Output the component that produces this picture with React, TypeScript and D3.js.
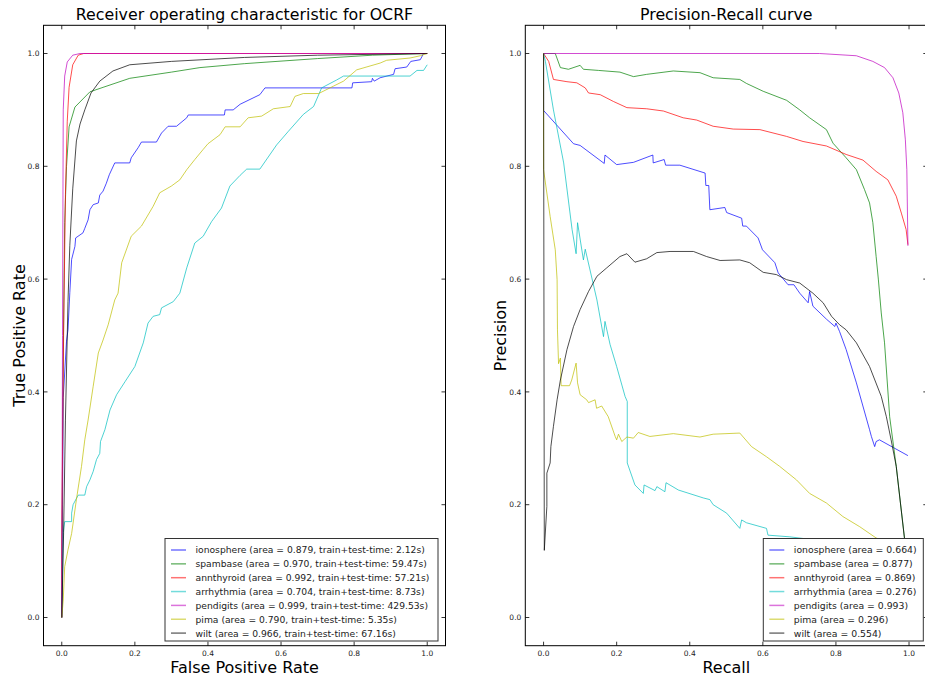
import React from "react";
import * as d3 from "d3";

type P = [number, number];

// ---------- ROC data (FPR, TPR) ----------
const rocIonosphere: P[] = [[0,0],[0.002,0.2],[0.004,0.39],[0.013,0.49],[0.017,0.51],[0.022,0.576],[0.027,0.635],[0.036,0.658],[0.038,0.673],[0.058,0.682],[0.063,0.69],[0.072,0.705],[0.077,0.723],[0.086,0.732],[0.1,0.735],[0.104,0.749],[0.113,0.756],[0.122,0.77],[0.13,0.785],[0.145,0.806],[0.186,0.806],[0.19,0.815],[0.209,0.833],[0.218,0.843],[0.259,0.843],[0.273,0.859],[0.291,0.871],[0.314,0.871],[0.342,0.886],[0.346,0.891],[0.445,0.891],[0.447,0.9],[0.469,0.9],[0.488,0.91],[0.542,0.927],[0.556,0.939],[0.794,0.939],[0.796,0.948],[0.848,0.95],[0.85,0.956],[0.855,0.951],[0.871,0.957],[0.908,0.963],[0.912,0.973],[0.944,0.976],[0.955,0.986],[0.981,0.989],[0.99,1.0],[1,1]];
const rocSpambase: P[] = [[0,0],[0.003,0.4],[0.008,0.7],[0.013,0.8],[0.02,0.87],[0.036,0.905],[0.077,0.932],[0.113,0.94],[0.186,0.956],[0.3,0.967],[0.378,0.975],[0.5,0.982],[0.7,0.991],[0.85,0.997],[1,1]];
const rocAnnthyroid: P[] = [[0,0],[0,0.15],[0.005,0.5],[0.01,0.75],[0.015,0.88],[0.02,0.94],[0.03,0.98],[0.045,0.997],[0.06,1],[1,1]];
const rocArrhythmia: P[] = [[0,0],[0.004,0.15],[0.008,0.17],[0.027,0.17],[0.027,0.185],[0.031,0.2],[0.045,0.217],[0.063,0.217],[0.068,0.232],[0.077,0.244],[0.086,0.259],[0.095,0.28],[0.104,0.291],[0.106,0.312],[0.118,0.333],[0.132,0.368],[0.15,0.395],[0.173,0.418],[0.2,0.445],[0.223,0.487],[0.236,0.522],[0.25,0.534],[0.268,0.537],[0.273,0.549],[0.305,0.56],[0.323,0.575],[0.342,0.62],[0.364,0.664],[0.387,0.676],[0.41,0.702],[0.437,0.726],[0.46,0.765],[0.488,0.784],[0.506,0.795],[0.542,0.795],[0.588,0.838],[0.62,0.862],[0.661,0.892],[0.689,0.906],[0.711,0.939],[0.752,0.953],[0.771,0.96],[0.953,0.96],[0.972,0.97],[0.99,0.97],[1.0,0.98]];
const rocPendigits: P[] = [[0,0],[0.002,0.5],[0.004,0.9],[0.008,0.96],[0.015,0.985],[0.03,0.997],[0.05,1],[1,1]];
const rocPima: P[] = [[0,0],[0.004,0.031],[0.008,0.09],[0.017,0.12],[0.027,0.149],[0.04,0.209],[0.054,0.268],[0.063,0.315],[0.072,0.35],[0.086,0.41],[0.1,0.469],[0.113,0.492],[0.127,0.519],[0.145,0.563],[0.154,0.575],[0.164,0.629],[0.19,0.676],[0.218,0.694],[0.25,0.729],[0.268,0.753],[0.3,0.765],[0.323,0.776],[0.342,0.794],[0.364,0.812],[0.387,0.83],[0.4,0.84],[0.433,0.856],[0.447,0.87],[0.488,0.87],[0.51,0.886],[0.547,0.889],[0.579,0.902],[0.625,0.906],[0.638,0.924],[0.661,0.929],[0.703,0.929],[0.743,0.942],[0.771,0.951],[0.807,0.971],[0.871,0.983],[0.889,0.988],[0.953,0.992],[0.981,0.996],[1,1]];
const rocWilt: P[] = [[0,0],[0.005,0.15],[0.01,0.35],[0.017,0.56],[0.022,0.66],[0.03,0.76],[0.04,0.845],[0.05,0.875],[0.063,0.9],[0.08,0.93],[0.104,0.951],[0.14,0.969],[0.186,0.98],[0.3,0.986],[0.5,0.993],[0.7,0.997],[1,1]];

// ---------- PR data (Recall, Precision) ----------
const prIonosphere: P[] = [[0,1],[0,0.899],[0.082,0.84],[0.1,0.837],[0.166,0.805],[0.168,0.82],[0.2,0.803],[0.246,0.807],[0.299,0.82],[0.3,0.806],[0.33,0.812],[0.334,0.802],[0.373,0.802],[0.442,0.788],[0.444,0.766],[0.452,0.766],[0.455,0.723],[0.496,0.727],[0.501,0.718],[0.542,0.708],[0.545,0.694],[0.555,0.694],[0.587,0.673],[0.599,0.652],[0.633,0.629],[0.642,0.611],[0.669,0.59],[0.685,0.59],[0.701,0.575],[0.724,0.558],[0.728,0.578],[0.737,0.552],[0.774,0.529],[0.797,0.516],[0.8,0.522],[0.81,0.507],[0.828,0.475],[0.856,0.416],[0.892,0.333],[0.897,0.321],[0.906,0.303],[0.91,0.312],[0.919,0.315],[0.997,0.287]];
const prSpambase: P[] = [[0,1],[0.032,1.0],[0.046,0.975],[0.068,0.972],[0.1,0.979],[0.109,0.972],[0.15,0.97],[0.209,0.967],[0.246,0.959],[0.282,0.963],[0.355,0.969],[0.428,0.966],[0.464,0.957],[0.537,0.954],[0.555,0.947],[0.601,0.933],[0.665,0.917],[0.701,0.9],[0.728,0.886],[0.774,0.865],[0.792,0.841],[0.828,0.815],[0.856,0.794],[0.878,0.759],[0.892,0.735],[0.901,0.7],[0.91,0.64],[0.916,0.6],[0.924,0.54],[0.933,0.487],[0.947,0.356],[0.965,0.268],[0.988,0.138],[1.0,0.11]];
const prAnnthyroid: P[] = [[0,1],[0.014,0.986],[0.027,0.954],[0.064,0.95],[0.091,0.948],[0.114,0.939],[0.123,0.93],[0.155,0.927],[0.191,0.915],[0.228,0.904],[0.282,0.902],[0.328,0.898],[0.382,0.886],[0.419,0.882],[0.464,0.871],[0.519,0.866],[0.592,0.865],[0.665,0.853],[0.71,0.844],[0.774,0.836],[0.828,0.821],[0.874,0.811],[0.91,0.791],[0.942,0.776],[0.965,0.747],[0.979,0.717],[0.992,0.688],[0.997,0.661]];
const prArrhythmia: P[] = [[0,1],[0.005,0.986],[0.027,0.9],[0.055,0.806],[0.078,0.688],[0.089,0.645],[0.093,0.7],[0.109,0.634],[0.114,0.653],[0.146,0.563],[0.164,0.498],[0.168,0.525],[0.182,0.484],[0.2,0.445],[0.223,0.392],[0.229,0.383],[0.229,0.274],[0.25,0.235],[0.273,0.22],[0.275,0.235],[0.305,0.225],[0.31,0.232],[0.332,0.223],[0.335,0.239],[0.369,0.226],[0.437,0.212],[0.455,0.209],[0.464,0.2],[0.501,0.185],[0.537,0.158],[0.542,0.173],[0.555,0.168],[0.61,0.158],[0.614,0.146],[0.674,0.143],[0.724,0.139],[0.85,0.125],[1.0,0.1]];
const prPendigits: P[] = [[0,1],[0.755,1.0],[0.856,0.996],[0.901,0.986],[0.933,0.975],[0.956,0.957],[0.972,0.93],[0.983,0.895],[0.99,0.847],[0.994,0.794],[0.997,0.659]];
const prPima: P[] = [[0,1],[0,0.794],[0.018,0.711],[0.032,0.652],[0.037,0.599],[0.038,0.51],[0.041,0.45],[0.046,0.46],[0.048,0.411],[0.071,0.411],[0.077,0.421],[0.089,0.451],[0.093,0.416],[0.1,0.395],[0.118,0.386],[0.123,0.381],[0.141,0.386],[0.145,0.371],[0.159,0.375],[0.177,0.356],[0.196,0.321],[0.2,0.315],[0.205,0.325],[0.214,0.312],[0.228,0.32],[0.246,0.318],[0.259,0.328],[0.291,0.321],[0.355,0.326],[0.428,0.32],[0.464,0.325],[0.537,0.327],[0.569,0.303],[0.61,0.285],[0.646,0.268],[0.692,0.244],[0.728,0.22],[0.774,0.203],[0.819,0.179],[0.865,0.161],[0.91,0.141],[1.0,0.12]];
const prWilt: P[] = [[0,1],[0.002,0.119],[0.009,0.197],[0.009,0.256],[0.018,0.274],[0.02,0.303],[0.027,0.339],[0.037,0.386],[0.046,0.421],[0.064,0.475],[0.082,0.516],[0.1,0.546],[0.123,0.578],[0.146,0.605],[0.173,0.62],[0.209,0.64],[0.228,0.645],[0.25,0.63],[0.282,0.636],[0.31,0.647],[0.346,0.649],[0.41,0.649],[0.446,0.64],[0.483,0.633],[0.537,0.634],[0.564,0.629],[0.601,0.612],[0.637,0.608],[0.665,0.599],[0.701,0.593],[0.737,0.575],[0.765,0.558],[0.788,0.534],[0.81,0.519],[0.828,0.51],[0.856,0.487],[0.892,0.445],[0.924,0.392],[0.938,0.356],[0.951,0.315],[0.965,0.268],[0.988,0.138],[1.0,0.09]];

const datasetNames = ["ionosphere", "spambase", "annthyroid", "arrhythmia", "pendigits", "pima", "wilt"];
const seriesColors = ["#0000ff", "#008000", "#ff0000", "#00bfbf", "#bf00bf", "#bfbf00", "#000000"];
const rocAreas = ["0.879", "0.970", "0.992", "0.704", "0.999", "0.790", "0.966"];
const rocTimes = ["2.12s", "59.47s", "57.21s", "8.73s", "429.53s", "5.35s", "67.16s"];
const prAreas = ["0.664", "0.877", "0.869", "0.276", "0.993", "0.296", "0.554"];
const tickValues = [0, 0.2, 0.4, 0.6, 0.8, 1.0];

const rocSeries = [rocIonosphere, rocSpambase, rocAnnthyroid, rocArrhythmia, rocPendigits, rocPima, rocWilt];
const prSeries = [prIonosphere, prSpambase, prAnnthyroid, prArrhythmia, prPendigits, prPima, prWilt];

const FONT = "DejaVu Sans, sans-serif";

interface PanelProps {
  id: string;
  x0: number;
  title: string;
  xLabel: string;
  yLabel: string;
  series: P[][];
  legend: string[];
  legendX: number;
  legendW: number;
  legendFont: number;
}

const TOP = 25.3;
const BOTTOM = 645.7;
const W = 402;

function Panel({ id, x0, title, xLabel, yLabel, series, legend, legendX, legendW, legendFont }: PanelProps) {
  const x = d3.scaleLinear().domain([-0.05, 1.05]).range([x0, x0 + W]);
  const y = d3.scaleLinear().domain([-0.05, 1.05]).range([BOTTOM, TOP]);
  const line = d3.line<P>().x((d) => x(d[0])).y((d) => y(d[1]));
  const fmt = d3.format(".1f");
  const tickLen = 4;
  const legendTop = 538.5;
  const rowH = 13.85;
  const firstRow = 550;
  return (
    <g>
      <defs>
        <clipPath id={id}>
          <rect x={x0} y={TOP} width={W} height={BOTTOM - TOP} />
        </clipPath>
      </defs>
      <g clipPath={`url(#${id})`}>
        {series.map((s, i) => (
          <path key={i} d={line(s) || ""} fill="none" stroke={seriesColors[i]} strokeOpacity={0.7} strokeWidth={1} />
        ))}
      </g>
      {tickValues.map((t) => (
        <g key={"x" + t}>
          <line x1={x(t)} x2={x(t)} y1={BOTTOM} y2={BOTTOM - tickLen} stroke="#000" strokeWidth={0.8} />
          <line x1={x(t)} x2={x(t)} y1={TOP} y2={TOP + tickLen} stroke="#000" strokeWidth={0.8} />
          <text x={x(t)} y={BOTTOM + 10.5} textAnchor="middle" fontSize={7.5} fontFamily={FONT} fill="#222">{fmt(t)}</text>
        </g>
      ))}
      {tickValues.map((t) => (
        <g key={"y" + t}>
          <line x1={x0} x2={x0 + tickLen} y1={y(t)} y2={y(t)} stroke="#000" strokeWidth={0.8} />
          <line x1={x0 + W} x2={x0 + W - tickLen} y1={y(t)} y2={y(t)} stroke="#000" strokeWidth={0.8} />
          <text x={x0 - 4} y={y(t) + 2.7} textAnchor="end" fontSize={7.5} fontFamily={FONT} fill="#222">{fmt(t)}</text>
        </g>
      ))}
      <rect x={x0} y={TOP} width={W} height={BOTTOM - TOP} fill="none" stroke="#000" strokeWidth={1} />
      <text x={x0 + W / 2} y={20} textAnchor="middle" fontSize={15.8} fontFamily={FONT} fill="#000">{title}</text>
      <text x={x0 + W / 2} y={673} textAnchor="middle" fontSize={16} fontFamily={FONT} fill="#000">{xLabel}</text>
      <text transform={`translate(${x0 - 19},${(TOP + BOTTOM) / 2}) rotate(-90)`} textAnchor="middle" fontSize={16} fontFamily={FONT} fill="#000">{yLabel}</text>
      <rect x={legendX} y={legendTop} width={legendW} height={102.5} fill="#fff" stroke="#333" strokeWidth={1} />
      {legend.map((txt, i) => (
        <g key={i}>
          <line x1={legendX + 6} x2={legendX + 21} y1={firstRow + i * rowH} y2={firstRow + i * rowH} stroke={seriesColors[i]} strokeOpacity={0.55} strokeWidth={1.5} />
          <text x={legendX + 30.5} y={firstRow + i * rowH + 3.4} fontSize={legendFont} fontFamily={FONT} fill="#222">{txt}</text>
        </g>
      ))}
    </g>
  );
}

export default function App() {
  const rocLegend = datasetNames.map((n, i) => `${n} (area = ${rocAreas[i]}, train+test-time: ${rocTimes[i]})`);
  const prLegend = datasetNames.map((n, i) => `${n} (area = ${prAreas[i]})`);
  return (
    <svg width={925} height={679} style={{ position: "absolute", left: 0, top: 0, background: "#fff" }}>
      <rect x={0} y={0} width={925} height={679} fill="#fff" />
      <Panel id="clipRoc" x0={43.5} title="Receiver operating characteristic for OCRF" xLabel="False Positive Rate" yLabel="True Positive Rate" series={rocSeries} legend={rocLegend} legendX={165} legendW={273} legendFont={9.2} />
      <Panel id="clipPr" x0={525.3} title="Precision-Recall curve" xLabel="Recall" yLabel="Precision" series={prSeries} legend={prLegend} legendX={763.3} legendW={160} legendFont={9.3} />
    </svg>
  );
}
